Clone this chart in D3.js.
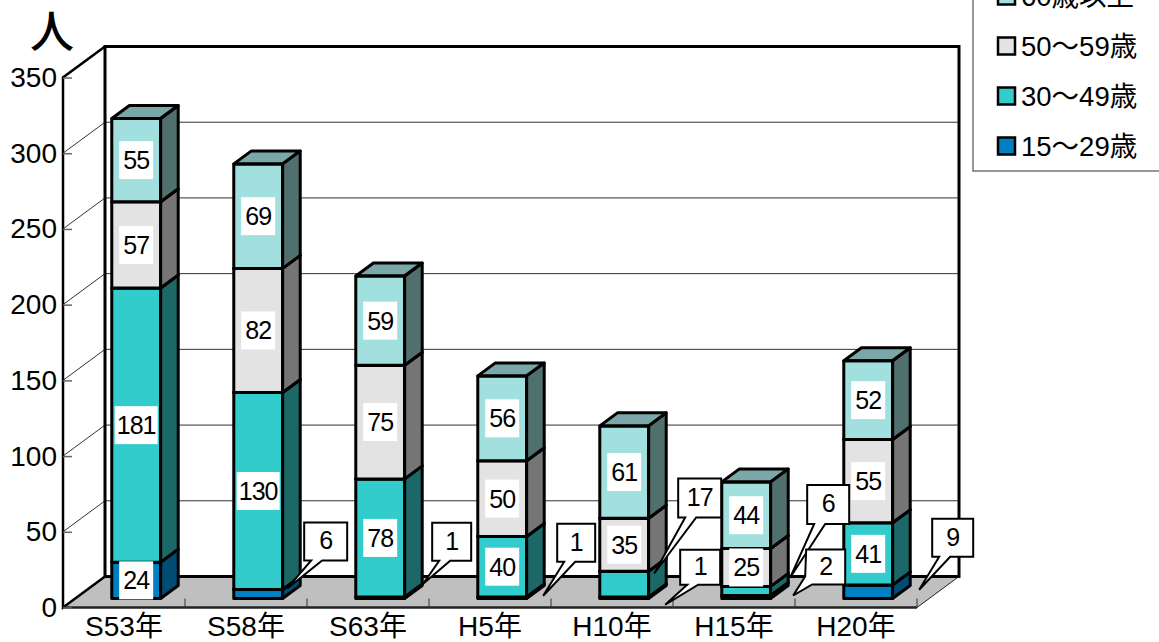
<!DOCTYPE html>
<html lang="ja">
<head>
<meta charset="utf-8">
<script src="https://cdn.jsdelivr.net/npm/d3@7"></script>
<style>
    html, body { margin: 0; padding: 0; background: #fff; overflow: hidden; }
    svg { display: block; }
    text { font-family: "Liberation Sans", "Noto Sans CJK JP", sans-serif; fill: #000; }
</style>
</head>
<body>
<div id="chart"></div>
<script>
// Chart data
const categories = ['S53年', 'S58年', 'S63年', 'H5年', 'H10年', 'H15年', 'H20年'];
const seriesNames = ['15～29歳', '30～49歳', '50～59歳', '60歳以上'];
const age15to29 = [24, 6, 1, 1, 1, 2, 9];
const age30to49 = [181, 130, 78, 40, 17, 6, 41];
const age50to59 = [57, 82, 75, 50, 35, 25, 55];
const age60plus = [55, 69, 59, 56, 61, 44, 52];
const yTicks = [0, 50, 100, 150, 200, 250, 300, 350];

// Colours per series: front, side and top faces
const frontColors = ['#0080c0', '#33cccc', '#e3e3e3', '#a2e0e0'];
const sideColors = ['#004c73', '#1c6868', '#757575', '#50706e'];
const topColors = ['#004c73', '#1c8080', '#8e8e8e', '#7aa8a8'];

// Labels that sit in a callout: series, category, tip and box offsets from the segment centre, box size
const callouts = [
    { s: 0, c: 1, tip: [29, -5.5], box: [46, -71.5, 43, 38] },
    { s: 0, c: 2, tip: [43, -14], box: [52, -75, 39, 38] },
    { s: 0, c: 3, tip: [41, -2], box: [55, -74, 38, 38] },
    { s: 1, c: 4, tip: [30, -10.6], box: [54, -105.6, 43, 39] },
    { s: 0, c: 4, tip: [41, 7], box: [56, -48, 40, 35] },
    { s: 1, c: 5, tip: [44, -13.4], box: [61, -106, 42, 39] },
    { s: 0, c: 5, tip: [47, -1.5], box: [60, -47.5, 39, 35], tail: [-1, 6, -8] },
    { s: 0, c: 6, tip: [51, -2], box: [64, -73, 41, 38] }
];

const width = 1159, height = 642;
const plot = { left: 63, right: 917, top: 77.5, bottom: 607.5 };
const wall = { dx: 42, dy: -31 }; // depth of the 3D box
const barDepthStart = 0.29, barDepthSize = 0.42;

const svg = d3.select('#chart').append('svg')
    .attr('width', width)
    .attr('height', height);

const x = d3.scaleBand().domain(categories).range([plot.left, plot.right]);
const y = d3.scaleLinear().domain([0, 350]).range([plot.bottom, plot.top]);

// Back wall, left wall and floor
const backX1 = plot.left + wall.dx, backX2 = plot.right + wall.dx;
const backY = v => y(v) + wall.dy;

svg.append('polygon')
    .attr('points', [[plot.left, plot.bottom], [plot.right, plot.bottom], [backX2, backY(0)], [backX1, backY(0)]].join(' '))
    .attr('fill', '#bfbfbf');

// Gridlines on both walls
svg.selectAll('.grid')
    .data(yTicks.filter(t => t > 0 && t < 350))
    .enter().append('path')
    .attr('class', 'grid')
    .attr('d', t => `M${plot.left},${y(t)}L${backX1},${backY(t)}L${backX2},${backY(t)}`)
    .attr('fill', 'none')
    .attr('stroke', '#333')
    .attr('stroke-width', 1);

// Box outline
svg.append('rect')
    .attr('x', backX1).attr('y', backY(350))
    .attr('width', backX2 - backX1).attr('height', backY(0) - backY(350))
    .attr('fill', 'none').attr('stroke', '#000').attr('stroke-width', 3);
svg.append('path')
    .attr('d', `M${backX1},${backY(350)}L${plot.left},${y(350)}L${plot.left},${y(0)}L${backX1},${backY(0)}`)
    .attr('fill', 'none').attr('stroke', '#000').attr('stroke-width', 2.5);
svg.append('path')
    .attr('d', `M${plot.left},${y(0)}L${plot.right},${y(0)}`)
    .attr('stroke', '#222').attr('stroke-width', 2.5);
svg.append('path')
    .attr('d', `M${plot.right},${y(0)}L${backX2},${backY(0)}`)
    .attr('stroke', '#222').attr('stroke-width', 1);

// Y axis
const yAxis = svg.append('g')
    .attr('transform', `translate(${plot.left},0)`)
    .call(d3.axisLeft(y).tickValues(yTicks).tickSize(-9).tickPadding(6));
yAxis.select('.domain').remove();
yAxis.selectAll('line').attr('stroke', '#666').attr('stroke-width', 1.5);
yAxis.selectAll('text').attr('font-size', 28).style('font-family', null);

// X axis, the ticks point into the floor
const xAxis = svg.append('g')
    .attr('transform', `translate(0,${plot.bottom})`)
    .call(d3.axisBottom(x).tickSize(0).tickPadding(9));
xAxis.select('.domain').remove();
xAxis.selectAll('text').attr('font-size', 28).style('font-family', null);

svg.selectAll('.xsep')
    .data(categories.slice(1).concat('end'))
    .enter().append('line')
    .attr('class', 'xsep')
    .attr('x1', (d, i) => plot.left + (i + 1) * x.bandwidth())
    .attr('x2', (d, i) => plot.left + (i + 1) * x.bandwidth())
    .attr('y1', plot.bottom)
    .attr('y2', plot.bottom - 9)
    .attr('stroke', '#333')
    .attr('stroke-width', 1);

// Stack the four series
const rows = categories.map((c, i) => ({
    category: c,
    0: age15to29[i], 1: age30to49[i], 2: age50to59[i], 3: age60plus[i]
}));
const stacked = d3.stack().keys([0, 1, 2, 3])(rows);

// Bar geometry, the front face sits a little way into the box
const barWidth = x.bandwidth() * 0.4;
const frontDx = wall.dx * barDepthStart, frontDy = wall.dy * barDepthStart;
const sideDx = wall.dx * barDepthSize, sideDy = wall.dy * barDepthSize;
const barLeft = c => x(c) + (x.bandwidth() - barWidth) / 2 + frontDx;

const bars = svg.append('g');
categories.forEach((c, ci) => {
    const bar = bars.append('g');
    stacked.forEach((series, si) => {
        const y0 = y(series[ci][0]) + frontDy, y1 = y(series[ci][1]) + frontDy;
        const x0 = barLeft(c), x1 = x0 + barWidth;
        bar.append('polygon')
            .attr('points', [[x0, y1], [x1, y1], [x1 + sideDx, y1 + sideDy], [x0 + sideDx, y1 + sideDy]].join(' '))
            .attr('fill', topColors[si]);
        bar.append('polygon')
            .attr('points', [[x1, y0], [x1 + sideDx, y0 + sideDy], [x1 + sideDx, y1 + sideDy], [x1, y1]].join(' '))
            .attr('fill', sideColors[si]);
        bar.append('rect')
            .attr('x', x0).attr('y', y1)
            .attr('width', barWidth).attr('height', y0 - y1)
            .attr('fill', frontColors[si]);
        bar.selectAll(null)
            .data([
                [[x0, y1], [x1, y1], [x1 + sideDx, y1 + sideDy], [x0 + sideDx, y1 + sideDy]],
                [[x1, y0], [x1 + sideDx, y0 + sideDy], [x1 + sideDx, y1 + sideDy], [x1, y1]],
                [[x0, y0], [x1, y0], [x1, y1], [x0, y1]]
            ])
            .enter().append('polygon')
            .attr('points', d => d.join(' '))
            .attr('fill', 'none')
            .attr('stroke', '#000')
            .attr('stroke-width', 3)
            .attr('stroke-linejoin', 'round');
    });
});

// Value labels
const labels = svg.append('g');
const segmentCentre = (si, ci) => {
    const seg = stacked[si][ci];
    return [x(categories[ci]) + x.bandwidth() / 2 + frontDx, y((seg[0] + seg[1]) / 2) + frontDy];
};
const isCallout = (si, ci) => callouts.some(k => k.s === si && k.c === ci);

stacked.forEach((series, si) => {
    categories.forEach((c, ci) => {
        if (isCallout(si, ci)) return;
        const [cx, cy] = segmentCentre(si, ci);
        const value = series[ci][1] - series[ci][0];
        const boxWidth = value >= 100 ? 43 : 34;
        labels.append('rect')
            .attr('x', cx - boxWidth / 2).attr('y', cy - 19)
            .attr('width', boxWidth).attr('height', 38)
            .attr('fill', '#fff');
        labels.append('text')
            .attr('x', cx).attr('y', cy)
            .attr('text-anchor', 'middle')
            .attr('dominant-baseline', 'central')
            .attr('font-size', 25)
            .attr('letter-spacing', -1)
            .text(value);
    });
});

// Callouts for the thin segments
callouts.forEach(k => {
    const [cx, cy] = segmentCentre(k.s, k.c);
    const bx = cx + k.box[0], by = cy + k.box[1], bw = k.box[2], bh = k.box[3];
    const tx = cx + k.tip[0], ty = cy + k.tip[1];
    // Most tails leave the bottom edge, a tail with its own setting also climbs the left edge
    const outline = k.tail
        ? `M${bx},${by}H${bx + bw}V${by + bh}H${bx + k.tail[1]}L${tx},${ty}L${bx + k.tail[0]},${by + bh + k.tail[2]}Z`
        : `M${bx},${by}H${bx + bw}V${by + bh}H${bx + 18}L${tx},${ty}L${bx + 7},${by + bh}H${bx}Z`;
    labels.append('path')
        .attr('d', outline)
        .attr('fill', '#fff')
        .attr('stroke', '#000')
        .attr('stroke-width', 2);
    labels.append('text')
        .attr('x', bx + bw / 2).attr('y', by + bh / 2 - 1)
        .attr('text-anchor', 'middle')
        .attr('dominant-baseline', 'central')
        .attr('font-size', 25)
        .attr('letter-spacing', -1)
        .text(stacked[k.s][k.c][1] - stacked[k.s][k.c][0]);
});

// Unit label
svg.append('text')
    .attr('x', 52).attr('y', 48)
    .attr('text-anchor', 'middle')
    .attr('font-size', 44)
    .attr('font-weight', 500)
    .style('font-family', '"Noto Sans CJK JP"')
    .text('人');

// Legend, its top runs off the page
const legend = svg.append('g');
legend.append('rect')
    .attr('x', 973).attr('y', -10)
    .attr('width', 200).attr('height', 181)
    .attr('fill', '#fff')
    .attr('stroke', '#777')
    .attr('stroke-width', 1.5);

const legendRow = d3.scalePoint().domain([3, 2, 1, 0]).range([-4, 146]);
[0, 1, 2, 3].forEach(si => {
    const rowY = legendRow(si);
    legend.append('rect')
        .attr('x', 998).attr('y', rowY - 8.5)
        .attr('width', 17).attr('height', 17)
        .attr('fill', frontColors[si])
        .attr('stroke', '#000')
        .attr('stroke-width', 2.5);
    legend.append('text')
        .attr('x', 1021).attr('y', rowY)
        .attr('dominant-baseline', 'central')
        .attr('font-size', 27.5)
        .text(seriesNames[si]);
});
</script>
</body>
</html>
